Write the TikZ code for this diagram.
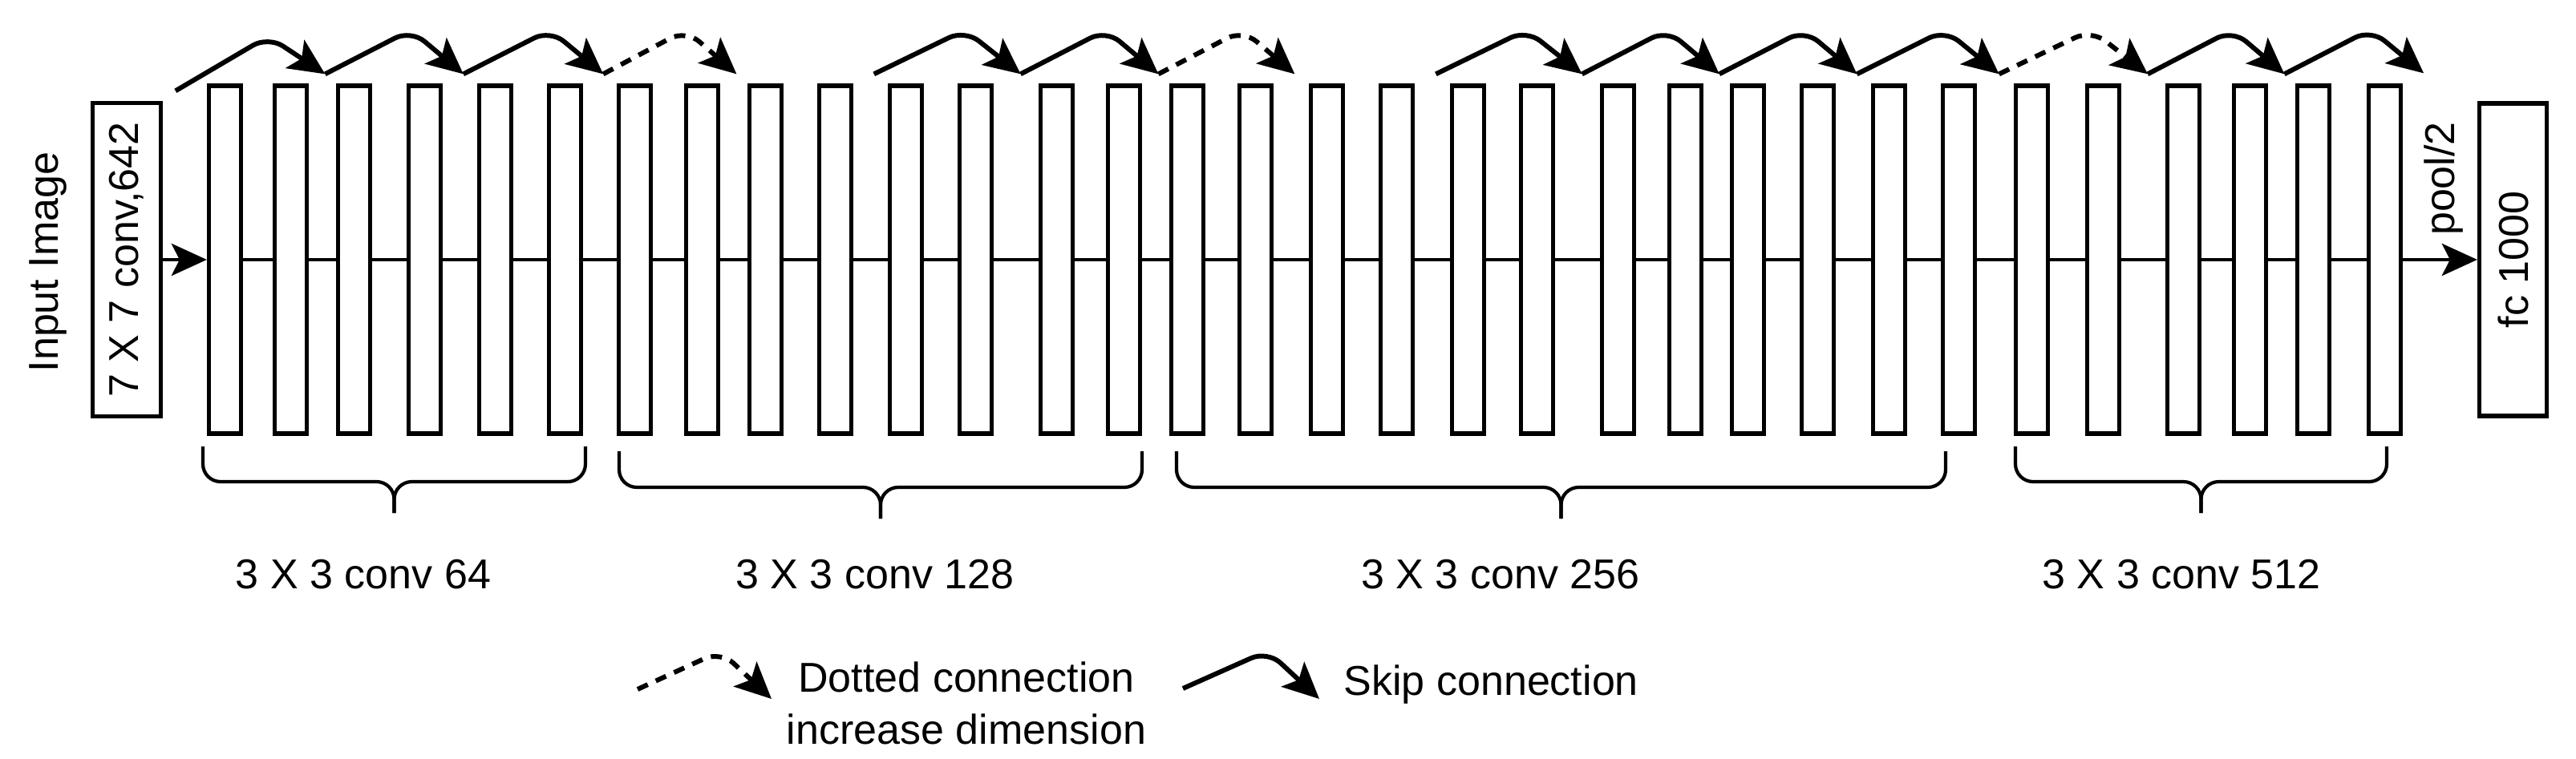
\documentclass[tikz,border=0pt]{standalone}
\usepackage{fontspec}
\setmainfont{Liberation Sans}
\usepackage{tikz}
\usetikzlibrary{arrows.meta,positioning,calc}

\tikzset{
  blk/.style={draw, line width=1.5pt, minimum width=0.40cm, minimum height=4.34cm, inner sep=0pt},
  tallbox/.style={draw, line width=1.5pt, rotate=90, minimum width=3.91cm, minimum height=0.85cm, inner sep=0pt},
  link/.style={line width=1.3pt},
  flow/.style={line width=1.4pt, -{Stealth[length=0.44cm,width=0.40cm,inset=0.1cm]}},
  hop/.style={line width=1.7pt, rounded corners=0.22cm, -{Stealth[length=0.45cm,width=0.42cm,inset=0.1cm]},
    to path={-- ($(\tikztostart)!0.62!(\tikztotarget)+(0,0.55)$) -- (\tikztotarget)}},
  hopdash/.style={hop, dash pattern=on 0.14cm off 0.11cm},
  brc/.style={line width=1.2pt, rounded corners=0.22cm},
}

\begin{document}
\begin{tikzpicture}[font=\fontsize{14.8}{18.5}\selectfont]
  \useasboundingbox (0,0) rectangle (32.12,9.46);

  \node[rotate=90] (inimg) at (0.60,6.19) {Input Image};
  \node[tallbox] (in) at (1.58,6.22) {7 X 7 conv,642};
  \node[tallbox, minimum width=3.90cm, minimum height=0.84cm] (fc) at (31.335,6.22) {fc 1000};
  \node[rotate=90] (pool) at (30.47,7.23) {pool/2};

  \foreach \x [count=\i] in {2.805,3.625,4.415,5.295,6.175,7.045,
      7.915,8.755,9.545,10.415,11.295,12.165,13.175,14.015,
      14.805,15.655,16.545,17.415,18.305,19.165,20.175,21.015,21.795,22.665,23.555,24.425,
      25.335,26.225,27.225,28.055,28.845,29.735}
    \node[blk] (b\i) at (\x,6.22) {};

  \foreach \i [evaluate=\i as \j using int(\i+1)] in {1,...,31}
    \draw[link] (b\i) -- (b\j);
  \draw[flow] (in) -- (b1);
  \draw[flow] (b32) -- (fc);

  \coordinate (j0) at ($(b1.north west)+(-0.39,-0.09)$);
  \foreach \k in {1,...,15} {
    \pgfmathtruncatemacro\l{2*\k}
    \pgfmathtruncatemacro\r{2*\k+1}
    \coordinate (j\k) at ($(b\l.north east)!0.6!(b\r.north west)+(0,0.12)$);
  }
  \coordinate (j16) at ($(b32.north east)+(0.26,0.13)$);

  \foreach \s/\t in {0/1,1/2,2/3,5/6,6/7,9/10,10/11,11/12,12/13,14/15,15/16}
    \draw[hop] (j\s) to (j\t);
  \foreach \s/\t in {3/4,7/8,13/14}
    \draw[hopdash] (j\s) to (j\t);

  \foreach \l/\r/\t/\m/\p in {2.53/7.30/3.89/3.45/3.06, 7.72/14.24/3.83/3.38/2.99,
      14.67/24.26/3.83/3.38/2.99, 25.13/29.76/3.89/3.45/3.06} {
    \draw[brc] (\l,\t) -- (\l,\m) -- ({(\l+\r)/2},\m) -- ({(\l+\r)/2},\p);
    \draw[brc] (\r,\t) -- (\r,\m) -- ({(\l+\r)/2},\m) -- ({(\l+\r)/2},\p);
  }

  \node (c64) at (4.53,2.29) {3 X 3 conv 64};
  \node (c128) at (10.91,2.29) {3 X 3 conv 128};
  \node (c256) at (18.71,2.29) {3 X 3 conv 256};
  \node (c512) at (27.20,2.29) {3 X 3 conv 512};

  \coordinate (ld0) at (7.95,0.86);
  \coordinate (ld1) at (9.62,0.74);
  \draw[hopdash] (ld0) to (ld1);
  \node[align=center, anchor=north, inner sep=0pt] (dottxt) at (12.05,1.21) {Dotted connection\\increase dimension};
  \coordinate (ls0) at (14.75,0.87);
  \coordinate (ls1) at (16.45,0.74);
  \draw[hop] (ls0) to (ls1);
  \node[anchor=base west, inner sep=0pt] (skiptxt) at (16.75,0.79) {Skip connection};
\end{tikzpicture}
\end{document}
